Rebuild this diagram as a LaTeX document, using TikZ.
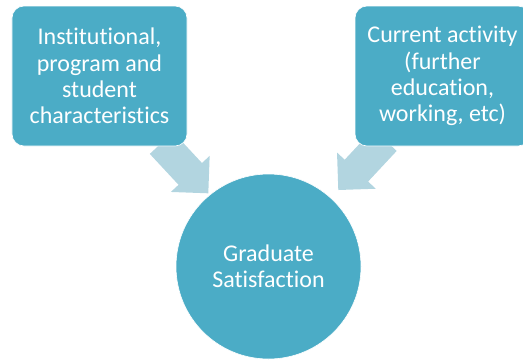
\documentclass[tikz,border=0pt]{standalone}
\usepackage{fontspec}
\setmainfont{Carlito}[Ligatures=NoCommon]
\usetikzlibrary{calc}
\definecolor{boxteal}{HTML}{4BACC6}
\definecolor{arrowpale}{HTML}{B2D5E0}

% block arrow from #1 to #2: flat tail, 32bp shaft, 53bp wide head
\newcommand\drawflowarrow[2]{%
  \coordinate (#1-base) at ($(#2)!26.5bp!(#1)$);
  \fill[arrowpale]
    ($(#1)!16bp!90:(#2)$) --
    ($(#1-base)!16bp!90:(#2)$) --
    ($(#1-base)!26.5bp!90:(#2)$) --
    (#2) --
    ($(#1-base)!26.5bp!-90:(#2)$) --
    ($(#1-base)!16bp!-90:(#2)$) --
    ($(#1)!16bp!-90:(#2)$) -- cycle;}

\begin{document}
\begin{tikzpicture}[x=1bp,y=-1bp,
  labeltext/.style={text=white, align=center,
    font=\fontsize{24bp}{26.3bp}\selectfont},
  factorbox/.style={labeltext, fill=boxteal, draw=white, line width=0.6bp,
    rounded corners=12bp, minimum width=175bp, minimum height=140bp,
    inner sep=0pt},
  outcome/.style={labeltext, circle, fill=boxteal, draw=white,
    line width=0.6bp, minimum size=185bp, inner sep=0pt}]
  \clip (0,0) rectangle (523,360);

  % arrows run behind the boxes
  \coordinate (s1) at (161.5,143);
  \coordinate (t1) at (208.3,193.3);
  \coordinate (s2) at (385,140);
  \coordinate (t2) at (338.3,190);
  \drawflowarrow{s1}{t1}
  \drawflowarrow{s2}{t2}

  \node[factorbox] (inst) at (99.5,76)
    {Institutional,\\program and\\student\\characteristics};
  \node[factorbox] (curr) at (442.5,76)
    {Current activity\\(further\\education,\\working, etc)};
  \node[outcome] (grad) at (268.5,266.5) {Graduate\\Satisfaction};
\end{tikzpicture}
\end{document}
